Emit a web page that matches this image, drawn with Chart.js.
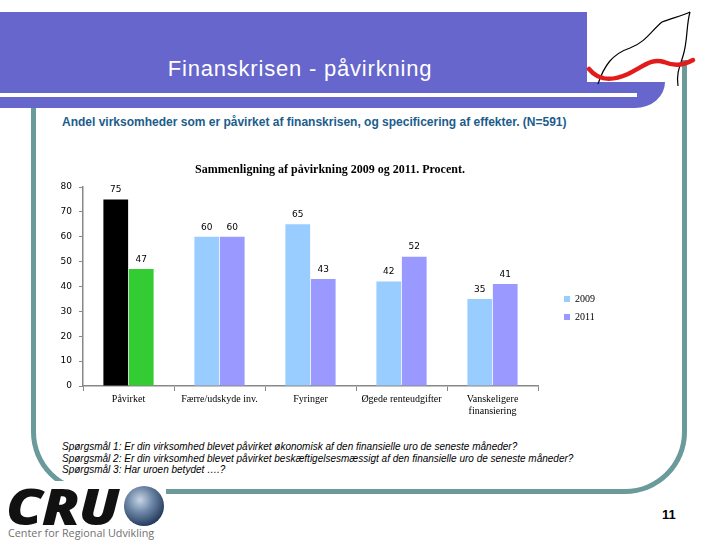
<!DOCTYPE html>
<html lang="da">
<head>
<meta charset="UTF-8">
<title>Finanskrisen - påvirkning</title>
<script src="https://cdn.jsdelivr.net/npm/chart.js"></script>
<style>
  body { margin: 0; background: #fff; }
  #slide { position: relative; width: 720px; height: 540px; overflow: hidden; background: #fff; font-family: "Liberation Sans", Arial, sans-serif; }
  .abs { position: absolute; }
  #frame { left: 31px; top: 60px; width: 656px; height: 434px; box-sizing: border-box;
           border: 5px solid #6a9a9a; border-top: none; border-radius: 0 0 62px 62px; }
  #bannerTop { left: 0; top: 12px; width: 587px; height: 72px; background: #6666cc; }
  #bannerLow { left: 0; top: 82px; width: 665px; height: 26px; background: #6666cc; border-bottom-right-radius: 30px 26px; }
  #whiteLine { left: 0; top: 93px; width: 637px; height: 4px; background: #fff; }
  #title { left: 0; width: 600px; top: 56px; text-align: center; color: #fff; font-size: 22px; letter-spacing: 0.8px; }
  #sub { left: 62px; top: 115px; color: #1b5c8c; font-size: 12px; font-weight: bold;
         font-family: "Liberation Sans Narrow", "Arial Narrow", sans-serif; }
  #notes { left: 62px; top: 441px; font-size: 10px; font-style: italic; line-height: 11.7px; color: #000; }
  #logoBox { left: 0; top: 481px; width: 166px; height: 59px; background: #fff; }
  #cru { left: 6px; top: 472px; font-family: "Open Sans", sans-serif; font-weight: 800; font-style: italic;
         font-size: 50px; letter-spacing: -1px; color: #111; transform: scaleX(1.17); transform-origin: 0 0; }
  #globe { left: 124px; top: 486px; width: 40px; height: 40px; border-radius: 50%;
           background: radial-gradient(circle at 40% 35%, #c8d6e6 0%, #6f88a8 35%, #243a5c 75%, #142238 100%); }
  #center { left: 8px; top: 525px; font-family: "Open Sans", sans-serif; font-size: 10.8px; color: #707070; }
  #pageNo { left: 662px; top: 507px; font-size: 13px; font-weight: bold; color: #000; }
  #chartBox { left: 55px; top: 155px; width: 565px; height: 270px; }
</style>
</head>
<body>
<div id="slide">
  <div id="frame" class="abs"></div>
  <div id="bannerTop" class="abs"></div>
  <div id="bannerLow" class="abs"></div>
  <div id="whiteLine" class="abs"></div>
  <svg class="abs" style="left:0;top:0" width="720" height="120">
    <path d="M598 84 C604 66 612 54 630 48 C646 42 652 30 662 22 C672 18 682 16 690 12" fill="none" stroke="#000" stroke-width="1.2"/>
    <path d="M690 12 C686 26 688 40 683 56 C680 66 676 74 678 86" fill="none" stroke="#000" stroke-width="1.2"/>
    <path d="M589 69 C598 80 610 82 628 74 C644 66 652 58 664 62 C674 66 682 66 693 60" fill="none" stroke="#e21b1b" stroke-width="4.5" stroke-linecap="round"/>
  </svg>
  <div id="title" class="abs">Finanskrisen - påvirkning</div>
  <div id="sub" class="abs">Andel virksomheder som er påvirket af finanskrisen, og specificering af effekter. (N=591)</div>
  <div id="chartBox" class="abs"><canvas id="chart" width="565" height="270"></canvas></div>
  <div id="notes" class="abs">
    Spørgsmål 1: Er din virksomhed blevet påvirket økonomisk af den finansielle uro de seneste måneder?<br>
    Spørgsmål 2: Er din virksomhed blevet påvirket beskæftigelsesmæssigt af den finansielle uro de seneste måneder?<br>
    Spørgsmål 3: Har uroen betydet ….?
  </div>
  <div id="logoBox" class="abs"></div>
  <div id="cru" class="abs">CRU</div>
  <div id="globe" class="abs"></div>
  <div id="center" class="abs">Center for Regional Udvikling</div>
  <div id="pageNo" class="abs">11</div>
</div>

<script>
// data
const categories = ["Påvirket", "Færre/udskyde inv.", "Fyringer", "Øgede renteudgifter", ["Vanskeligere", "finansiering"]];
const seriesNames = ["2009", "2011"];
const values2009 = [75, 60, 65, 42, 35];
const values2011 = [47, 60, 43, 52, 41];
const yTicks = [0, 10, 20, 30, 40, 50, 60, 70, 80];

const colors2009 = ["#000000", "#99ccff", "#99ccff", "#99ccff", "#99ccff"];
const colors2011 = ["#33cc33", "#9999ff", "#9999ff", "#9999ff", "#9999ff"];
const legendColors = ["#99ccff", "#9999ff"];

const serif = "'Liberation Serif', 'Times New Roman', serif";
const sans = "'DejaVu Sans', Verdana, sans-serif";

// value labels over the bars
const barLabels = {
  id: "barLabels",
  afterDatasetsDraw(chart) {
    const ctx = chart.ctx;
    ctx.save();
    ctx.font = "9px " + sans;
    ctx.fillStyle = "#000";
    ctx.textAlign = "center";
    ctx.textBaseline = "bottom";
    chart.data.datasets.forEach((ds, i) => {
      chart.getDatasetMeta(i).data.forEach((bar, j) => {
        ctx.fillText(ds.data[j], bar.x, bar.y - 5);
      });
    });
    ctx.restore();
  }
};

new Chart(document.getElementById("chart"), {
  type: "bar",
  data: {
    labels: categories,
    datasets: [
      { label: seriesNames[0], data: values2009, backgroundColor: colors2009, categoryPercentage: 0.56, barPercentage: 0.97 },
      { label: seriesNames[1], data: values2011, backgroundColor: colors2011, categoryPercentage: 0.56, barPercentage: 0.97 }
    ]
  },
  options: {
    responsive: false,
    animation: false,
    layout: { padding: { right: 15 } },
    plugins: {
      title: {
        display: true,
        text: "Sammenligning af påvirkning 2009 og 2011. Procent.",
        color: "#000",
        font: { family: serif, size: 12, weight: "bold" },
        padding: { top: 8, bottom: 9.6 }
      },
      legend: {
        position: "right",
        title: { display: true, text: " ", font: { size: 10 }, padding: { top: 12, bottom: 12 } },
        labels: {
          boxWidth: 6, boxHeight: 6, padding: 8, color: "#000",
          font: { family: serif, size: 10 },
          generateLabels: () => seriesNames.map((n, i) => ({
            text: n, fillStyle: legendColors[i], strokeStyle: legendColors[i], lineWidth: 0, datasetIndex: i,
            fontColor: "#000"
          }))
        }
      },
      tooltip: { enabled: false }
    },
    scales: {
      x: {
        grid: { drawOnChartArea: false, drawTicks: true, tickLength: 5, color: "#888" },
        border: { color: "#888", width: 1.5 },
        ticks: { color: "#000", font: { family: serif, size: 10 }, padding: 2, maxRotation: 0, autoSkip: false },
        afterFit(s) { s.height = 39; }
      },
      y: {
        min: 0, max: 80,
        afterBuildTicks(s) { s.ticks = yTicks.map(v => ({ value: v })); },
        grid: { drawOnChartArea: false, drawTicks: true, tickLength: 4, color: "#888" },
        border: { color: "#888", width: 1.5 },
        ticks: { color: "#000", font: { family: sans, size: 9 }, padding: 7 },
        afterFit(s) { s.width = 28; }
      },
      pad: {
        position: "right", display: true,
        grid: { display: false }, border: { display: false }, ticks: { display: false },
        afterFit(s) { s.width = 18; }
      }
    }
  },
  plugins: [barLabels]
});
</script>
</body>
</html>
